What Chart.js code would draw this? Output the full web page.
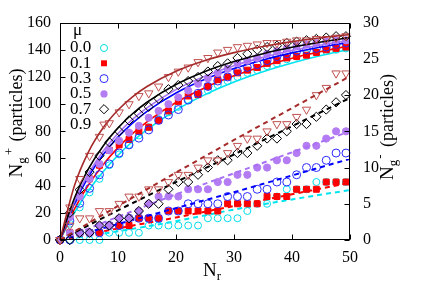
<!DOCTYPE html>
<html>
<head>
<meta charset="utf-8">
<script src="https://cdn.jsdelivr.net/npm/chart.js@4.4.0/dist/chart.umd.min.js"></script>
<style>
  html, body { margin: 0; padding: 0; background: #fff; }
  #wrap { width: 424px; height: 297px; }
</style>
</head>
<body>
<div id="wrap"><canvas id="chart" width="424" height="297"></canvas></div>
<script>
// simulation points (Nr)
var nr = [0, 1.7, 3.4, 5.1, 6.8, 8.5, 10.2, 11.9, 13.6, 15.3, 17, 18.7, 20.4, 22.1, 23.8,
          25.5, 27.2, 28.9, 30.6, 32.3, 34, 35.7, 37.4, 39.1, 40.8, 42.5, 44.2, 45.9, 47.6, 49.3];
var muLabels = ["0.0", "0.1", "0.3", "0.5", "0.7", "0.9"];

// Ng+ (left axis)
var plus00 = [0, 12, 24, 35, 45, 55, 63, 70, 77, 83, 89, 94, 98, 103, 107, 110, 114, 117, 120, 123, 125, 128, 130, 133, 135, 137, 138, 139, 140, 141];
var plus01 = [0, 18, 33, 45, 55, 66, 70, 74, 80, 83, 88, 95, 102, 106, 107, 113, 118, 120, 123, 125, 127, 130, 132, 134, 135, 136, 138, 140, 141, 142];
var plus03 = [0, 14, 27, 38, 48, 56, 64, 70, 75, 81, 88, 92, 96, 103, 108, 113, 117, 120, 124, 127, 129, 132, 135, 137, 139, 140, 141, 142, 144, 145];
var plus05 = [0, 17, 32, 45, 56, 66, 73, 79, 84, 90, 95, 100, 105, 110, 115, 119, 123, 126, 130, 132, 134, 137, 139, 141, 143, 144, 145, 146, 147, 147];
var plus07 = [0, 20, 37, 50, 62, 72, 80, 88, 93, 98, 104, 111, 114, 117, 120, 124, 128, 130, 134, 137, 140, 142, 143, 145, 146, 147, 148, 149, 150, 150];
var plus09 = [0, 24, 45, 62, 76, 86, 94, 100, 106, 108, 113, 120, 124, 127, 131, 134, 138, 140, 142, 143, 144, 145, 145, 146, 147, 147, 148, 148, 149, 150];

// Ng- (right axis)
var minus00 = [0, 0, 0, 0, 0, 1, 1, 1, 1, 2, 2, 2, 2, 2, 2, 3, 3, 3, 3, 4, 5, 5, 6, 7, 7, 7, 8, 8, 8, 8];
var minus01 = [0, 1, 1, 1, 1, 2, 2, 2, 3, 3, 3, 4, 4, 4, 4, 4, 4, 5, 5, 5, 5, 6, 6, 6, 7, 7, 7, 8, 8, 8];
var minus03 = [0, 0, 1, 1, 1, 2, 2, 3, 3, 3, 3, 4, 4, 5, 5, 5, 5, 6, 6, 6, 7, 7, 8, 8, 9, 10, 10, 11, 12, 12];
var minus05 = [0, 1, 1, 1, 2, 2, 3, 3, 4, 5, 6, 6, 6, 7, 7, 7, 8, 8, 9, 9, 10, 10, 11, 11, 12, 13, 13, 14, 15, 15];
var minus07 = [0, 0, 1, 1, 2, 2, 3, 3, 4, 5, 5, 7, 8, 8, 9, 10, 11, 11, 12, 12, 13, 14, 14, 15, 16, 16, 17, 18, 19, 20];
var minus09 = [0, 2, 3, 3, 4, 4, 5, 6, 6, 7, 7, 8, 9, 9, 10, 11, 11, 12, 13, 14, 14, 15, 16, 16, 17, 18, 20, 21, 23, 23];

// fitted curves
var nrFitPlus = [0, 2.5, 5, 7.5, 10, 12.5, 15, 20, 25, 30, 35, 40, 45, 50];
var fitPlus00 = [0, 20.2, 36.8, 50.6, 62.4, 72.5, 81.2, 95.6, 107.0, 116.3, 123.9, 130.3, 135.8, 140.5];
var fitPlus01 = [0, 22.9, 41.1, 55.8, 68.0, 78.3, 87.0, 101.2, 112.1, 120.8, 127.9, 133.8, 138.7, 143.0];
var fitPlus03 = [0, 27.0, 47.3, 63.1, 75.7, 86.0, 94.7, 108.2, 118.3, 126.2, 132.5, 137.7, 142.0, 145.6];
var fitPlus05 = [0, 28.5, 49.5, 65.7, 78.4, 88.8, 97.3, 110.7, 120.6, 128.3, 134.4, 139.4, 143.5, 147.0];
var fitPlus07 = [0, 30.9, 53.0, 69.6, 82.5, 92.9, 101.4, 114.4, 124.0, 131.3, 137.1, 141.8, 145.7, 149.0];
var fitPlus09 = [0, 40.2, 65.6, 83.0, 95.7, 105.4, 113.0, 124.2, 132.1, 137.9, 142.4, 146.0, 148.9, 151.3];

var nrFitMinus = [0, 10, 20, 30, 40, 50];
var fitMinus00 = [0, 1.2, 2.6, 4.2, 5.6, 6.9];
var fitMinus01 = [0, 1.6, 3.1, 4.7, 6.3, 7.9];
var fitMinus03 = [0, 2.2, 4.4, 6.6, 8.9, 11.2];
var fitMinus05 = [0, 3.2, 6.3, 9.2, 12.1, 15.0];
var fitMinus07 = [0, 4.1, 8.0, 11.8, 15.7, 19.6];
var fitMinus09 = [0, 4.7, 9.3, 13.8, 18.2, 22.6];

var SERIF = "'Liberation Serif', 'DejaVu Serif', serif";

var plusSets = [plus00, plus01, plus03, plus05, plus07, plus09];
var minusSets = [minus00, minus01, minus03, minus05, minus07, minus09];
var fitPlusSets = [fitPlus00, fitPlus01, fitPlus03, fitPlus05, fitPlus07, fitPlus09];
var fitMinusSets = [fitMinus00, fitMinus01, fitMinus03, fitMinus05, fitMinus07, fitMinus09];

var styles = [
  { mark: '#00dcec', line: '#00e4f0', shape: 'circle', r: 3.5, fill: false },
  { mark: '#ff0000', line: '#ff0000', shape: 'rect', r: 4.2, fill: true },
  { mark: '#2a2aff', line: '#0000ff', shape: 'circle', r: 4, fill: false },
  { mark: '#b47cf2', line: '#a970f5', shape: 'circle', r: 3.6, fill: true },
  { mark: '#000000', line: '#000000', shape: 'rectRot', r: 4.6, fill: false },
  { mark: '#c05050', line: '#a52a2a', shape: 'triangle', r: 4.8, fill: false }
];

function pts(xs, ys) {
  return xs.map(function (x, i) { return { x: x, y: ys[i] }; });
}

var datasets = [];
var k = 0;
styles.forEach(function (s, i) {
  var markOpts = function (vals, axis) {
    return {
      label: muLabels[i], data: pts(nr, vals), yAxisID: axis, showLine: false,
      pointStyle: s.shape, pointRotation: s.shape === 'triangle' ? 180 : 0,
      pointRadius: s.r, pointBorderWidth: 1, pointBorderColor: s.mark,
      pointBackgroundColor: s.fill ? s.mark : 'rgba(0,0,0,0)',
      clip: false, order: -(k++)
    };
  };
  datasets.push(markOpts(plusSets[i], 'y'));
  datasets.push({
    data: pts(nrFitPlus, fitPlusSets[i]), yAxisID: 'y', showLine: true,
    borderColor: s.line, borderWidth: 1.6, pointRadius: 0,
    cubicInterpolationMode: 'monotone', clip: false, order: -(k++)
  });
  datasets.push(markOpts(minusSets[i], 'y2'));
  datasets.push({
    data: pts(nrFitMinus, fitMinusSets[i]), yAxisID: 'y2', showLine: true,
    borderColor: s.line, borderWidth: 2, borderDash: [5, 4], pointRadius: 0,
    cubicInterpolationMode: 'monotone', clip: false, order: -(k++)
  });
});

function drawMarker(ctx, s, x, y) {
  ctx.save();
  ctx.strokeStyle = s.mark; ctx.fillStyle = s.mark; ctx.lineWidth = 1;
  ctx.beginPath();
  if (s.shape === 'circle') {
    ctx.arc(x, y, s.r, 0, Math.PI * 2);
  } else if (s.shape === 'rect') {
    var h = s.r * Math.SQRT1_2;
    ctx.rect(x - h, y - h, 2 * h, 2 * h);
  } else if (s.shape === 'rectRot') {
    ctx.moveTo(x, y - s.r); ctx.lineTo(x + s.r, y); ctx.lineTo(x, y + s.r); ctx.lineTo(x - s.r, y);
    ctx.closePath();
  } else {
    ctx.moveTo(x - s.r * 0.87, y - s.r * 0.5); ctx.lineTo(x + s.r * 0.87, y - s.r * 0.5);
    ctx.lineTo(x, y + s.r); ctx.closePath();
  }
  if (s.fill) ctx.fill(); else ctx.stroke();
  ctx.restore();
}

function richText(ctx, parts, x, y, rot) {
  ctx.save();
  ctx.translate(x, y);
  ctx.rotate(rot);
  ctx.fillStyle = '#000';
  ctx.textBaseline = 'alphabetic';
  ctx.textAlign = 'left';
  var total = 0;
  parts.forEach(function (p) {
    ctx.font = p.size + 'px ' + SERIF;
    p.w = ctx.measureText(p.t).width + (p.gap || 0);
    total += p.w;
  });
  var cx = -total / 2;
  parts.forEach(function (p) {
    ctx.font = p.size + 'px ' + SERIF;
    ctx.fillText(p.t, cx, p.dy || 0);
    cx += p.w;
  });
  ctx.restore();
}

var frame = {
  id: 'frame',
  afterDraw: function (chart) {
    var ctx = chart.ctx, a = chart.chartArea;
    var sx = chart.scales.x, sy = chart.scales.y, sy2 = chart.scales.y2;
    var L = Math.round(a.left) + 0.5, R = Math.round(a.right) - 0.5;
    var T = Math.round(a.top) + 0.5, B = Math.round(a.bottom) - 0.5;
    ctx.save();
    ctx.strokeStyle = '#000';
    ctx.lineWidth = 1;
    ctx.strokeRect(L, T, R - L, B - T);
    ctx.beginPath();
    sx.ticks.forEach(function (t) {
      var px = Math.round(sx.getPixelForValue(t.value)) + 0.5;
      ctx.moveTo(px, B); ctx.lineTo(px, B - 5);
      ctx.moveTo(px, T); ctx.lineTo(px, T + 5);
    });
    sy.ticks.forEach(function (t) {
      var py = Math.round(sy.getPixelForValue(t.value)) + 0.5;
      ctx.moveTo(L, py); ctx.lineTo(L + 5, py);
    });
    sy2.ticks.forEach(function (t) {
      var py = Math.round(sy2.getPixelForValue(t.value)) + 0.5;
      ctx.moveTo(R, py); ctx.lineTo(R - 5, py);
    });
    ctx.stroke();
    ctx.restore();

    // axis titles
    richText(ctx, [{ t: 'N', size: 19 }, { t: 'r', size: 13, dy: 4 }], 212, 276, 0);
    richText(ctx, [{ t: 'N', size: 19 }, { t: 'g', size: 13, dy: 4, gap: 2 },
                   { t: '+', size: 13, dy: -9, gap: 2 }, { t: ' (particles)', size: 18 }],
             22, 123, -Math.PI / 2);
    richText(ctx, [{ t: 'N', size: 19 }, { t: 'g', size: 13, dy: 4, gap: 1 },
                   { t: '-', size: 13, dy: -9, gap: 3 }, { t: ' (particles)', size: 18 }],
             393, 127, -Math.PI / 2);

    // key
    ctx.save();
    ctx.fillStyle = '#000';
    ctx.textBaseline = 'middle';
    ctx.font = '17px ' + SERIF;
    ctx.textAlign = 'left';
    ctx.fillText('\u03bc', 73, 31);
    muLabels.forEach(function (m, i) {
      var yy = 48 + i * 15.3;
      ctx.fillText(m, 70, yy);
      drawMarker(ctx, styles[i], 104, yy);
    });
    ctx.restore();
  }
};

var tickFont = { family: SERIF, size: 16 };

new Chart(document.getElementById('chart'), {
  type: 'scatter',
  data: { datasets: datasets },
  options: {
    responsive: false,
    animation: false,
    devicePixelRatio: 1,
    layout: { padding: { top: 18, left: 0, right: 0, bottom: 0 } },
    plugins: { legend: { display: false }, tooltip: { enabled: false } },
    scales: {
      x: {
        type: 'linear', min: 0, max: 50,
        ticks: { stepSize: 10, font: tickFont, color: '#000', padding: 8, maxRotation: 0 },
        grid: { display: false, drawTicks: false }, border: { display: false },
        afterFit: function (s) { s.height = 57; }
      },
      y: {
        position: 'left', min: 0, max: 160,
        ticks: { stepSize: 20, font: tickFont, color: '#000', padding: 9 },
        grid: { display: false, drawTicks: false }, border: { display: false },
        afterFit: function (s) { s.width = 60; }
      },
      y2: {
        position: 'right', min: 0, max: 30,
        ticks: { stepSize: 5, font: tickFont, color: '#000', padding: 13 },
        grid: { display: false, drawTicks: false }, border: { display: false },
        afterFit: function (s) { s.width = 74; }
      }
    }
  },
  plugins: [frame]
});
</script>
</body>
</html>
